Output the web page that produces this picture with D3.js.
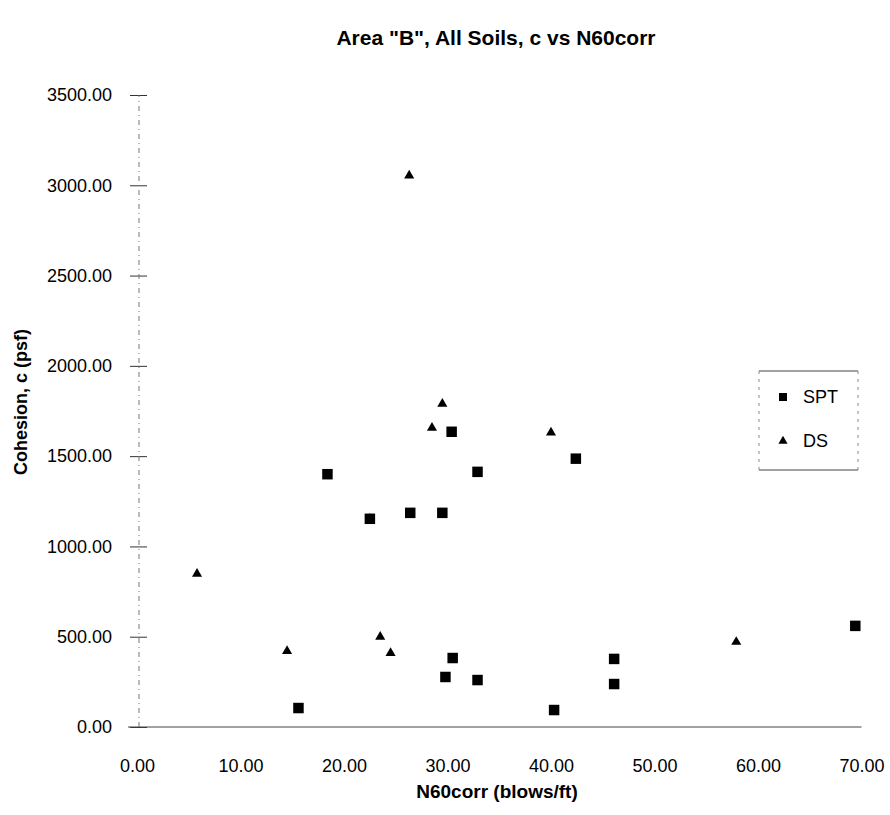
<!DOCTYPE html>
<html>
<head>
<meta charset="utf-8">
<script src="https://cdn.jsdelivr.net/npm/d3@7"></script>
<style>
  body { margin: 0; background: #fff; }
  text { font-family: "Liberation Sans", Arial, sans-serif; fill: #000; }
</style>
</head>
<body>
<div class="chart"></div>
<script>
// SPT points [N60corr, c]
const sptPoints = [
  [15.6, 105], [18.4, 1400], [22.5, 1153], [26.4, 1186], [29.5, 1186],
  [30.4, 1635], [30.5, 382], [29.8, 277], [32.9, 260], [32.9, 1413],
  [40.3, 94], [42.4, 1486], [46.1, 377], [46.1, 238], [69.4, 560]
];
// DS points [N60corr, c]
const dsPoints = [
  [5.8, 848], [14.5, 421], [22.5, 1153], [23.5, 499], [24.5, 410],
  [26.3, 3054], [28.5, 1657], [29.5, 1790], [40.0, 1630], [57.9, 471]
];
const xTicks = [0, 10, 20, 30, 40, 50, 60, 70];
const yTicks = [0, 500, 1000, 1500, 2000, 2500, 3000, 3500];
const seriesNames = ['SPT', 'DS'];

function displayChart() {
  const w = 890;
  const h = 815;

  const xScale = d3.scaleLinear()
    .domain([0, 70])
    .range([137, 861.5]);
  const yScale = d3.scaleLinear()
    .domain([0, 3500])
    .range([727, 95]);

  const svg = d3.select('.chart')
    .append('svg')
    .attr('width', w)
    .attr('height', h);

  svg.append('text')
    .attr('x', 496)
    .attr('y', 45)
    .attr('text-anchor', 'middle')
    .style('font-size', '21px')
    .style('font-weight', 'bold')
    .text('Area "B", All Soils, c vs N60corr');

  // y axis: dashed line, ticks crossing it
  const yAxis = svg.append('g')
    .attr('class', 'y-axis')
    .attr('transform', `translate(${xScale(0)}, 0)`)
    .call(d3.axisLeft(yScale).tickValues(yTicks).tickSize(0).tickPadding(25)
      .tickFormat(d3.format('.2f')));
  yAxis.select('.domain').remove();
  yAxis.selectAll('text')
    .style('font-size', '18px')
    .attr('fill', '#000');
  yAxis.append('line')
    .attr('x1', 2)
    .attr('x2', 2)
    .attr('y1', yScale(0))
    .attr('y2', yScale(3500))
    .attr('stroke', '#777')
    .attr('stroke-dasharray', '5,4,1,4');
  yAxis.selectAll('.tick')
    .append('line')
    .attr('x1', -7)
    .attr('x2', 10)
    .attr('stroke', '#333');

  // x axis
  const xAxis = svg.append('g')
    .attr('class', 'x-axis')
    .attr('transform', `translate(0, ${yScale(0)})`)
    .call(d3.axisBottom(xScale).tickValues(xTicks).tickSize(0).tickPadding(32)
      .tickFormat(d3.format('.2f')));
  xAxis.select('.domain').remove();
  xAxis.selectAll('text')
    .style('font-size', '18px')
    .attr('fill', '#000');
  xAxis.append('line')
    .attr('x1', xScale(0) - 9)
    .attr('x2', xScale(70))
    .attr('stroke', '#444')
    .attr('stroke-width', 1.2);

  svg.append('text')
    .attr('x', 497)
    .attr('y', 798)
    .attr('text-anchor', 'middle')
    .style('font-size', '19px')
    .style('font-weight', 'bold')
    .text('N60corr (blows/ft)');

  svg.append('text')
    .attr('transform', 'rotate(-90)')
    .attr('x', -402)
    .attr('y', 27)
    .attr('text-anchor', 'middle')
    .style('font-size', '18px')
    .style('font-weight', 'bold')
    .text('Cohesion, c (psf)');

  const square = d3.symbol().type(d3.symbolSquare).size(110);
  const triangle = d3.symbol().type(d3.symbolTriangle).size(44);

  svg.selectAll('.spt')
    .data(sptPoints)
    .enter()
    .append('path')
    .attr('class', 'spt')
    .attr('d', square)
    .attr('transform', (d) => `translate(${xScale(d[0])}, ${yScale(d[1])})`)
    .attr('fill', '#000');

  svg.selectAll('.ds')
    .data(dsPoints)
    .enter()
    .append('path')
    .attr('class', 'ds')
    .attr('d', triangle)
    .attr('transform', (d) => `translate(${xScale(d[0])}, ${yScale(d[1])})`)
    .attr('fill', '#000');

  // legend
  const legend = svg.append('g')
    .attr('class', 'legend')
    .attr('transform', 'translate(759, 371)');
  legend.append('line').attr('x1', 0).attr('x2', 99).attr('y1', 0).attr('y2', 0)
    .attr('stroke', '#444');
  legend.append('line').attr('x1', 0).attr('x2', 99).attr('y1', 99).attr('y2', 99)
    .attr('stroke', '#444');
  legend.append('line').attr('x1', 0).attr('x2', 0).attr('y1', 0).attr('y2', 99)
    .attr('stroke', '#888').attr('stroke-dasharray', '3,5');
  legend.append('line').attr('x1', 99).attr('x2', 99).attr('y1', 0).attr('y2', 99)
    .attr('stroke', '#888').attr('stroke-dasharray', '3,5');

  const items = legend.selectAll('.item')
    .data(seriesNames)
    .enter()
    .append('g')
    .attr('class', 'item')
    .attr('transform', (d, i) => `translate(24, ${26 + i * 44})`);
  items.append('path')
    .attr('d', (d, i) => i === 0 ? d3.symbol().type(d3.symbolSquare).size(64)() : d3.symbol().type(d3.symbolTriangle).size(36)())
    .attr('fill', '#000');
  items.append('text')
    .attr('x', 20)
    .attr('y', 6)
    .style('font-size', '18px')
    .text((d) => d);
}

displayChart();
</script>
</body>
</html>
